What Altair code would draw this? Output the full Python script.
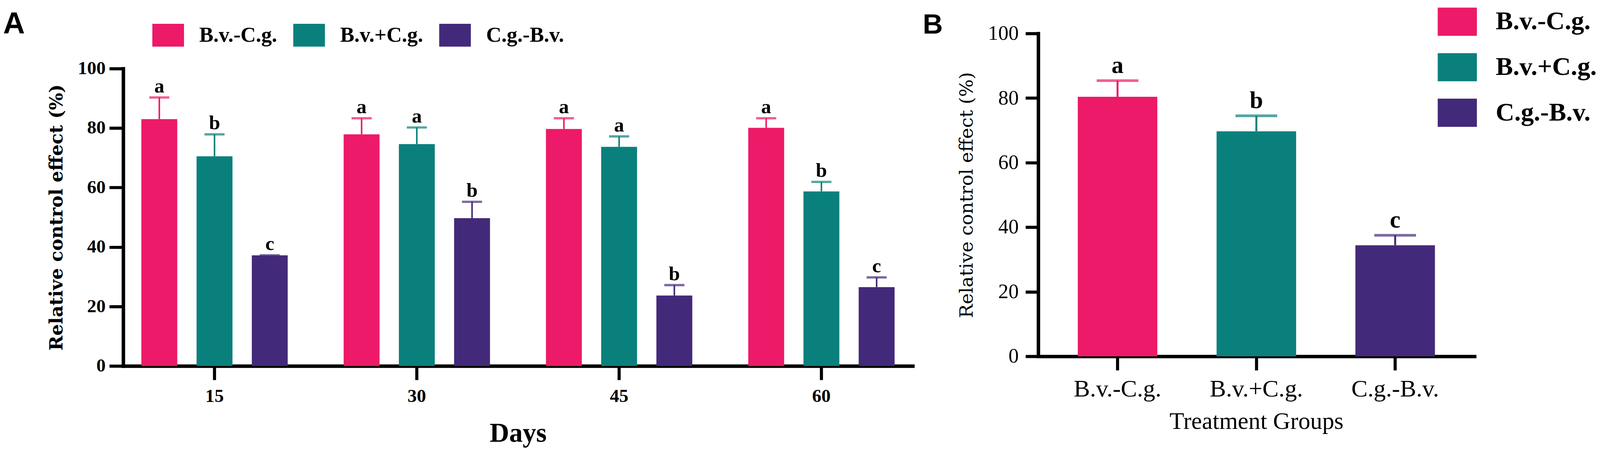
import altair as alt
import pandas as pd

# ---------------- data ----------------
days = ["15", "30", "45", "60"]
groups = ["B.v.-C.g.", "B.v.+C.g.", "C.g.-B.v."]
colors = ["#EC1A68", "#0A807C", "#43297A"]

# Panel A: mean relative control effect (%) by day
a_bv_minus_cg = [83.0, 77.9, 79.7, 80.1]
a_bv_plus_cg = [70.5, 74.6, 73.7, 58.7]
a_cg_minus_bv = [37.2, 49.7, 23.7, 26.5]
# Panel A: error (upper) values
a_err_bv_minus_cg = [7.3, 5.4, 3.6, 3.2]
a_err_bv_plus_cg = [7.4, 5.6, 3.5, 3.2]
a_err_cg_minus_bv = [0.0, 5.5, 3.5, 3.3]
# Panel A: significance letters
a_let_bv_minus_cg = ["a", "a", "a", "a"]
a_let_bv_plus_cg = ["b", "a", "a", "b"]
a_let_cg_minus_bv = ["c", "b", "b", "c"]

# Panel B
b_means = [80.4, 69.7, 34.4]
b_err = [5.0, 4.8, 3.1]
b_letters = ["a", "b", "c"]

y_ticks = [0, 20, 40, 60, 80, 100]

# ---------------- tables ----------------
rows = []
series = [
    (groups[0], a_bv_minus_cg, a_err_bv_minus_cg, a_let_bv_minus_cg),
    (groups[1], a_bv_plus_cg, a_err_bv_plus_cg, a_let_bv_plus_cg),
    (groups[2], a_cg_minus_bv, a_err_cg_minus_bv, a_let_cg_minus_bv),
]
for g, vals, errs, lets in series:
    for d, v, e, l in zip(days, vals, errs, lets):
        rows.append({"day": d, "group": g, "value": v, "upper": v + e, "letter": l})
df_a = pd.DataFrame(rows)

df_b = pd.DataFrame({
    "group": groups,
    "value": b_means,
    "upper": [m + e for m, e in zip(b_means, b_err)],
    "letter": b_letters,
})

# ---------------- styling ----------------
SERIF = "Liberation Serif"
TITLE_SERIF = "DejaVu Serif"
SANS = "Liberation Sans"
RECT = "M-1.39,-1H1.39V1H-1.39Z"

A_W, A_H = 2045, 862
B_W, B_H = 1130, 837

# ---------------- panel A ----------------
xA = alt.X(
    "day:N", sort=days,
    scale=alt.Scale(paddingInner=0.181, paddingOuter=0.042),
    axis=alt.Axis(
        title="Days", labelAngle=0, labelFont=SERIF, labelFontSize=48,
        labelFontWeight="bold", labelPadding=19, labelLimit=0, tickSize=36, tickWidth=8,
        domainWidth=9, titleFont=SERIF, titleFontSize=70, titleFontWeight="bold",
        titlePadding=38,
    ),
)
xoffA = alt.XOffset("group:N", sort=groups,
                    scale=alt.Scale(paddingInner=0.35, paddingOuter=0.175))
yA = alt.Y(
    "value:Q",
    scale=alt.Scale(domain=[0, 100], range=[A_H, 91], nice=False, zero=True),
    axis=alt.Axis(
        title="Relative control effect (%)", values=y_ticks, labelFont=SERIF,
        labelFontSize=48, labelFontWeight="bold", labelPadding=10, tickSize=36,
        tickWidth=8, domainWidth=9, titleFont=TITLE_SERIF, titleFontSize=47,
        titleFontWeight="bold", titlePadding=30, titleLimit=0,
    ),
)
colorA = alt.Color(
    "group:N", scale=alt.Scale(domain=groups, range=colors),
    legend=alt.Legend(
        title=None, orient="none", legendX=87, legendY=-25, direction="horizontal",
        symbolType=RECT, symbolSize=3481, symbolStrokeWidth=0, symbolOpacity=1,
        labelFont=SERIF, labelFontSize=55, labelFontWeight="bold", labelColor="black",
        labelOffset=51, labelLimit=0, columnPadding=41, padding=0,
    ),
)
colorA_nol = alt.Color("group:N", scale=alt.Scale(domain=groups, range=colors), legend=None)

baseA = alt.Chart(df_a)
barsA = baseA.mark_bar().encode(x=xA, xOffset=xoffA, y=yA, color=colorA)
ruleA = baseA.mark_rule(strokeWidth=4).encode(
    x=alt.X("day:N", sort=days), xOffset=xoffA,
    y=alt.Y("value:Q"), y2="upper:Q", color=colorA_nol)
capA = baseA.mark_tick(thickness=6, size=52).encode(
    x=alt.X("day:N", sort=days), xOffset=xoffA,
    y=alt.Y("upper:Q"), color=colorA_nol)
letA = baseA.mark_text(
    baseline="alphabetic", dy=-13, font=SERIF, fontSize=52, fontWeight="bold",
    color="black").encode(
    x=alt.X("day:N", sort=days), xOffset=xoffA,
    y=alt.Y("upper:Q"), text="letter:N")
panelA = alt.Chart(pd.DataFrame({"panel": ["A"]})).mark_text(
    align="left", baseline="alphabetic", font=SANS, fontSize=78,
    fontWeight="bold", color="black").encode(
    text="panel:N", x=alt.value(-311), y=alt.value(0))

chartA = alt.layer(barsA, ruleA, capA, letA, panelA).properties(width=A_W, height=A_H)

# ---------------- panel B ----------------
xB = alt.X(
    "group:N", sort=groups,
    scale=alt.Scale(paddingInner=0.427, paddingOuter=0.285),
    axis=alt.Axis(
        title="Treatment Groups", labelAngle=0, labelFont=SERIF, labelFontSize=63,
        labelFontWeight="normal", labelPadding=18, labelLimit=0, tickSize=36, tickWidth=8,
        domainWidth=9, titleFont=SERIF, titleFontSize=62, titleFontWeight="normal",
        titlePadding=22,
    ),
)
yB = alt.Y(
    "value:Q",
    scale=alt.Scale(domain=[0, 100], nice=False, zero=True),
    axis=alt.Axis(
        title="Relative control effect (%)", values=y_ticks, labelFont=SERIF,
        labelFontSize=53, labelFontWeight="normal", labelPadding=18, tickSize=33,
        tickWidth=8, domainWidth=9, titleFont=TITLE_SERIF, titleFontSize=48,
        titleFontWeight="normal", titlePadding=30, titleLimit=0,
    ),
)
colorB = alt.Color(
    "group:N", scale=alt.Scale(domain=groups, range=colors),
    legend=alt.Legend(
        title=None, orient="none", legendX=1049, legendY=-67, direction="vertical",
        symbolType=RECT, symbolSize=5329, symbolStrokeWidth=0, symbolOpacity=1,
        labelFont=SERIF, labelFontSize=67, labelFontWeight="bold", labelColor="black",
        labelOffset=63, labelLimit=0, rowPadding=45, padding=0,
    ),
)
colorB_nol = alt.Color("group:N", scale=alt.Scale(domain=groups, range=colors), legend=None)

baseB = alt.Chart(df_b)
barsB = baseB.mark_bar().encode(x=xB, y=yB, color=colorB)
ruleB = baseB.mark_rule(strokeWidth=5).encode(
    x=alt.X("group:N", sort=groups), y=alt.Y("value:Q"), y2="upper:Q", color=colorB_nol)
capB = baseB.mark_tick(thickness=7, size=108).encode(
    x=alt.X("group:N", sort=groups), y=alt.Y("upper:Q"), color=colorB_nol)
letB = baseB.mark_text(
    baseline="alphabetic", dy=-20, font=SERIF, fontSize=62, fontWeight="bold",
    color="black").encode(
    x=alt.X("group:N", sort=groups), y=alt.Y("upper:Q"), text="letter:N")
panelB = alt.Chart(pd.DataFrame({"panel": ["B"]})).mark_text(
    align="left", baseline="alphabetic", font=SANS, fontSize=72,
    fontWeight="bold", color="black").encode(
    text="panel:N", x=alt.value(-299), y=alt.value(0))

chartB = alt.layer(barsB, ruleB, capB, letB, panelB).properties(width=B_W, height=B_H)

# ---------------- combine ----------------
chart = alt.hconcat(chartA, chartB, spacing=325, bounds="flush").resolve_scale(
    color="independent").resolve_legend(color="independent").properties(
    padding={"left": 0, "top": 5, "right": 0, "bottom": 0},
    background="white",
).configure_view(strokeWidth=0).configure_axis(
    grid=False, domainColor="black", tickColor="black", labelColor="black",
    titleColor="black", domainCap="square",
)

chart.save("out.html", embed_options={"renderer": "svg", "actions": False})
